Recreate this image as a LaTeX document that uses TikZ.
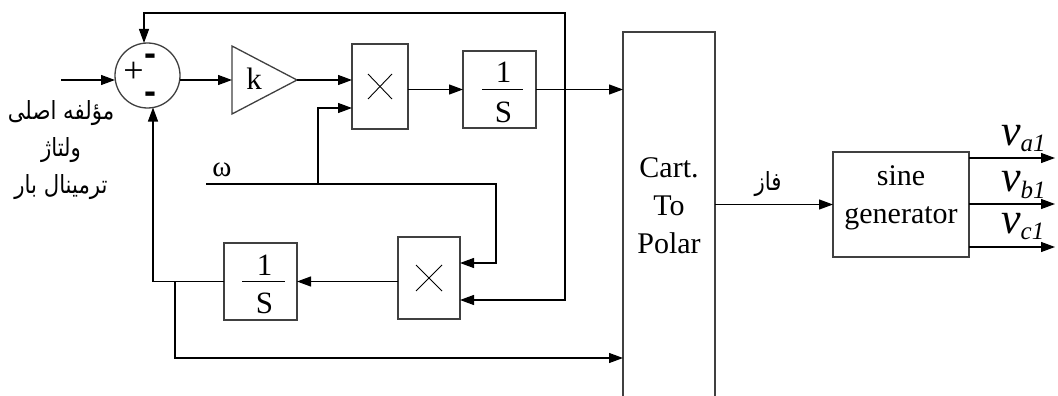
\documentclass[tikz,border=0pt]{standalone}
\usepackage{fontspec}
\setmainfont{Liberation Serif}
\newfontfamily\arabicfont[Script=Arabic, FakeStretch=0.85]{DejaVu Sans}
\newfontfamily\sansfnt{Liberation Sans}
\TeXXeTstate=1
\usetikzlibrary{arrows.meta,calc}
\tikzset{
  blk/.style={draw=black!75, line width=1.3pt, inner sep=0pt, outer sep=0pt, rectangle},
  sumc/.style={draw=black!75, line width=1.3pt, inner sep=0pt, outer sep=0pt, circle, minimum size=65pt},
  arr/.style={-{Triangle[length=14pt,width=10pt]}, line width=1.2pt},
  lbl/.style={inner sep=0pt, font=\fontsize{31}{31}\selectfont},
  txt/.style={inner sep=0pt, align=center, font=\fontsize{30}{38}\selectfont},
  fa/.style={inner sep=0pt, align=center, font=\arabicfont\fontsize{25}{37}\selectfont},
  minus/.style={inner sep=0pt, font=\sansfnt\bfseries\fontsize{36}{36}\selectfont},
  vlbl/.style={inner sep=0pt, anchor=base west, font=\fontsize{44}{44}\selectfont\itshape},
  crossline/.style={line width=0.9pt},
  fracbar/.style={line width=1.1pt}
}
\newcommand{\vsub}[2]{#1\raisebox{-6.5pt}{\fontsize{25}{25}\selectfont #2}}
\begin{document}
\begin{tikzpicture}[x=1pt,y=-1pt]
\useasboundingbox (0,0) rectangle (1058,396);
% blocks
\node[sumc] (sum) at (147.5,75.5) {};
\node[blk, minimum width=56pt, minimum height=85pt] (mul1) at (380,86.5) {};
\node[blk, minimum width=73pt, minimum height=77pt] (int1) at (499.5,89.5) {};
\node[blk, minimum width=92pt, minimum height=380pt] (cart) at (669,222) {};
\node[blk, minimum width=136pt, minimum height=105pt] (sine) at (901,204.5) {};
\node[blk, minimum width=62pt, minimum height=82pt] (mul2) at (429,278) {};
\node[blk, minimum width=73pt, minimum height=77pt] (int2) at (260.5,281.5) {};
% gain triangle
\coordinate (gin) at (232,80);
\coordinate (gout) at (297,80);
\draw[draw=black!75, line width=1.3pt] (232,46) -- (gout) -- (232,114) -- cycle;
\node[lbl] (k) at (254,79) {k};
% sum signs
\node[inner sep=0pt, font=\fontsize{36}{36}\selectfont] (plus) at (133.5,72.5) {+};
\node[minus] (mn1) at (150.7,60) {-};
\node[minus] (mn2) at (150,97.7) {-};
% multiplier crosses
\draw[crossline] ($(mul1)+(-12,-12.5)$) -- ($(mul1)+(12,12.5)$);
\draw[crossline] ($(mul1)+(-12,12.5)$) -- ($(mul1)+(12,-12.5)$);
\draw[crossline] ($(mul2)+(-13,-13)$) -- ($(mul2)+(13,13)$);
\draw[crossline] ($(mul2)+(-13,13)$) -- ($(mul2)+(13,-13)$);
% integrator labels
\node[lbl, anchor=base] (one1) at ($(int1)+(4,-6.5)$) {1};
\node[lbl, anchor=base] (s1) at ($(int1)+(4,32.5)$) {S};
\draw[fracbar] ($(int1)+(-17.5,0)$) -- ($(int1)+(23.5,0)$);
\node[lbl, anchor=base] (one2) at ($(int2)+(4,-6.5)$) {1};
\node[lbl, anchor=base] (s2) at ($(int2)+(4,31.5)$) {S};
\draw[fracbar] ($(int2)+(-18.5,0)$) -- ($(int2)+(24.5,0)$);
% texts
\node[txt] (carttxt) at (669,206) {Cart.\\To\\Polar};
\node[txt] (sinetxt) at (901,198) {sine\\generator};
\node[lbl, font=\fontsize{29}{29}\selectfont] (omega) at (222,170) {ω};
\node[fa] (faz) at (768,184) {\beginR فاز\endR};
\node[fa] (inlbl) at (61,150) {\beginR مؤلفه اصلی\endR\\\beginR ولتاژ\endR\\\beginR ترمینال بار\endR};
\node[vlbl] (va) at (1001,145) {\vsub{v}{a1}};
\node[vlbl] (vb) at (1001,191.5) {\vsub{v}{b1}};
\node[vlbl] (vc) at (1001,233) {\vsub{v}{c1}};
% connectors
\coordinate (in) at (61,80);
\draw[arr] (in) -- (sum.west |- in);
\draw[arr] (sum.east |- gin) -- (gin);
\draw[arr] (gout) -- (mul1.west |- gout);
\draw[arr] (mul1.east |- int1) -- (int1.west);
\draw[arr] (int1.east) -- (cart.west |- int1.east);
\coordinate (tap) at (565,89.5);
\coordinate (topc) at (144,13);
\draw[arr] (tap) -- (tap |- topc) -- (topc) -- (topc |- sum.north);
\coordinate (m2b) at (565,300);
\draw[arr] (tap) -- (m2b) -- (mul2.east |- m2b);
\coordinate (wstart) at (206,184);
\coordinate (wturn) at (496,184);
\coordinate (m2a) at (496,263);
\draw[arr] (wstart) -- (wturn) -- (m2a) -- (mul2.east |- m2a);
\coordinate (wtap) at (318,184);
\coordinate (m1b) at (318,108);
\draw[arr] (wtap) -- (m1b) -- (mul1.west |- m1b);
\draw[arr] (mul2.west |- int2) -- (int2.east);
\coordinate (fb) at (153,281.5);
\draw[arr] (int2.west) -- (fb) -- (153,107.5);
\coordinate (fb2) at (175,281.5);
\coordinate (fb3) at (175,358);
\draw[arr] (fb2) -- (fb3) -- (cart.west |- fb3);
\draw[arr] (cart.east |- sine) -- (sine.west);
\coordinate (oa) at (1055,158);
\coordinate (ob) at (1055,204);
\coordinate (oc) at (1055,247);
\draw[arr] (sine.east |- oa) -- (oa);
\draw[arr] (sine.east |- ob) -- (ob);
\draw[arr] (sine.east |- oc) -- (oc);
\end{tikzpicture}
\end{document}
